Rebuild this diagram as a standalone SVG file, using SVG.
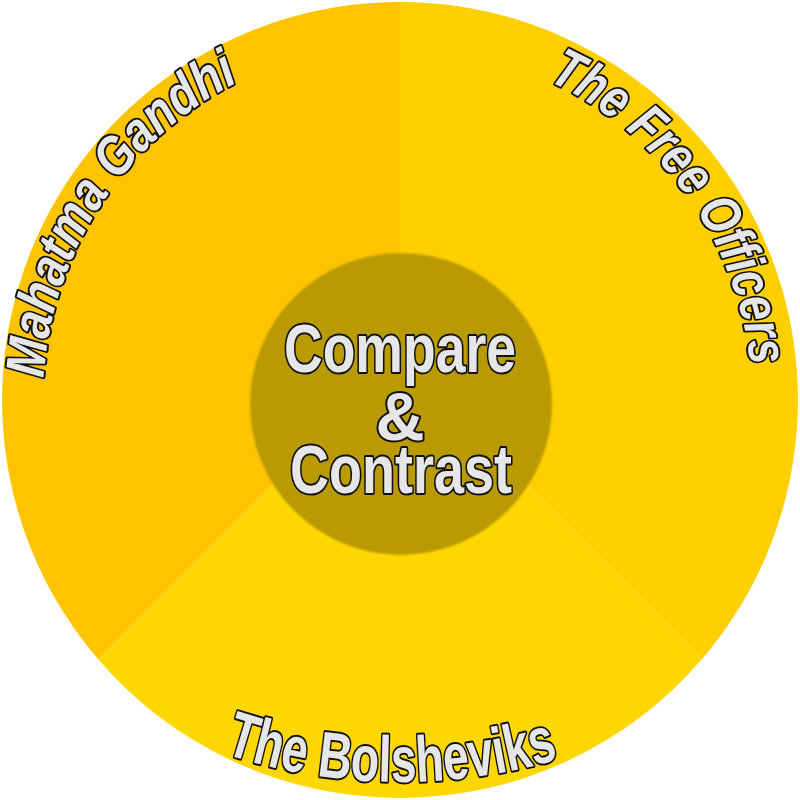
<svg xmlns="http://www.w3.org/2000/svg" width="800" height="800" viewBox="0 0 800 800">
  <defs>
    <style>
      .label {
        font-family: "Liberation Sans Narrow", "Liberation Sans", Arial, sans-serif;
        font-weight: bold;
        fill: #E6E6E6;
        stroke: #111111;
        stroke-width: 4;
        stroke-linejoin: round;
        paint-order: stroke;
      }
      .side { font-style: italic; font-size: 55px; }
      .bottom { font-size: 65px; }
      .hub { font-size: 68px; text-anchor: middle; }
    </style>
    <filter id="soft" x="-10%" y="-10%" width="120%" height="120%">
      <feGaussianBlur stdDeviation="1"/>
    </filter>
    <!-- baselines for the curved labels -->
    <path id="arc-gandhi" d="M 43.67,378.21 A 357 357 0 0 1 240.71,80.51"/>
    <path id="arc-officers" d="M 547.65,80.46 A 352 352 0 0 1 750.55,368.10"/>
    <path id="arc-bolsheviks" d="M 224,753.6 A 560 560 0 0 0 562,758"/>
  </defs>

  <g id="sector-gandhi">
    <path d="M 400,358 L 400,2 A 398 398 0 0 0 98.4,659.6 Z" fill="#FFC400"/>
    <text class="label side"><textPath href="#arc-gandhi" textLength="372" lengthAdjust="spacingAndGlyphs">Mahatma Gandhi</textPath></text>
  </g>

  <g id="sector-free-officers">
    <path d="M 400,358 L 400,2 A 398 398 0 0 1 701.6,659.6 Z" fill="#FFCF00"/>
    <text class="label side"><textPath href="#arc-officers" textLength="366" lengthAdjust="spacingAndGlyphs">The Free Officers</textPath></text>
  </g>

  <g id="sector-bolsheviks">
    <path d="M 400,358 L 701.6,659.6 A 398 398 0 0 1 98.4,659.6 Z" fill="#FFD700"/>
    <text class="label bottom"><textPath href="#arc-bolsheviks" textLength="340" lengthAdjust="spacingAndGlyphs">The Bolsheviks</textPath></text>
  </g>

  <g id="center">
    <circle cx="401" cy="404" r="151" fill="#B99A00" filter="url(#soft)"/>
    <text class="label hub" x="400" y="372" textLength="232" lengthAdjust="spacingAndGlyphs">Compare</text>
    <text class="label hub" x="400" y="440">&amp;</text>
    <text class="label hub" x="401" y="493" textLength="222" lengthAdjust="spacingAndGlyphs">Contrast</text>
  </g>
</svg>
